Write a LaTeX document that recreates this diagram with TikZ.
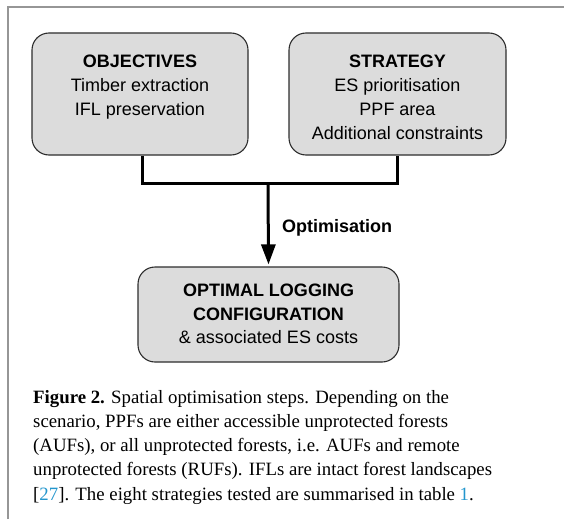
\documentclass[tikz,border=0pt]{standalone}
\usepackage{fontspec}
\setmainfont{Liberation Serif}
\newfontfamily\boxfont{Liberation Sans}
\usetikzlibrary{arrows.meta}
\definecolor{boxfill}{RGB}{220,220,220}
\definecolor{boxline}{RGB}{45,45,45}
\definecolor{framegray}{RGB}{150,150,150}
\definecolor{reflink}{RGB}{35,150,205}
\tikzset{
  x=1pt, y=-1pt,
  stagebox/.style={draw=boxline, line width=1.1pt, fill=boxfill, rounded corners=17pt, inner sep=0pt},
  stagetext/.style={font=\boxfont\fontsize{18}{24}\selectfont, align=center, inner sep=0pt, anchor=north},
  flow/.style={line width=3pt, draw=black},
  captext/.style={font=\fontsize{18.8}{24.2}\selectfont, align=left, inner sep=0pt, anchor=base west}
}
\begin{document}
\begin{tikzpicture}
\useasboundingbox (0,0) rectangle (564,519);
\draw[framegray, line width=1.5pt] (8,519) -- (8,7) -- (564,7);
% boxes
\node[stagebox, minimum width=216pt, minimum height=122pt] (obj) at (140,94) {};
\node[stagebox, minimum width=217pt, minimum height=122pt] (str) at (397.5,94) {};
\node[stagebox, minimum width=261pt, minimum height=95pt] (opt) at (268.5,314.5) {};
% texts
\node[stagetext] (objt) at (140,55) {\textbf{OBJECTIVES}\\Timber extraction\\IFL preservation};
\node[stagetext] (strt) at (397.5,55) {\textbf{STRATEGY}\\ES prioritisation\\PPF area\\Additional constraints};
\node[stagetext, font=\boxfont\fontsize{18}{23.5}\selectfont] (optt) at (268.5,284) {\textbf{OPTIMAL LOGGING}\\\textbf{CONFIGURATION}\\\& associated ES costs};
% connectors
\coordinate (join) at (268,183);
\draw[flow] ([xshift=2pt]obj.south) |- (join) -| (str.south);
\draw[flow, -{Triangle[length=20pt,width=14pt]}, shorten >=2pt] (join) -- (opt.north);
\node[font=\boxfont\bfseries\fontsize{18}{22}\selectfont, anchor=base west, inner sep=0pt] (optl) at (282,232) {Optimisation};
% caption
\node[captext] (cap) at (33,500) {\textbf{Figure 2.} Spatial optimisation steps. Depending on the\\
scenario, PPFs are either accessible unprotected forests\\
(AUFs), or all unprotected forests, i.e. AUFs and remote\\
unprotected forests (RUFs). IFLs are intact forest landscapes\\
{[}\textcolor{reflink}{27}{]}. The eight strategies tested are summarised in table \textcolor{reflink}{1}.};
\end{tikzpicture}
\end{document}
